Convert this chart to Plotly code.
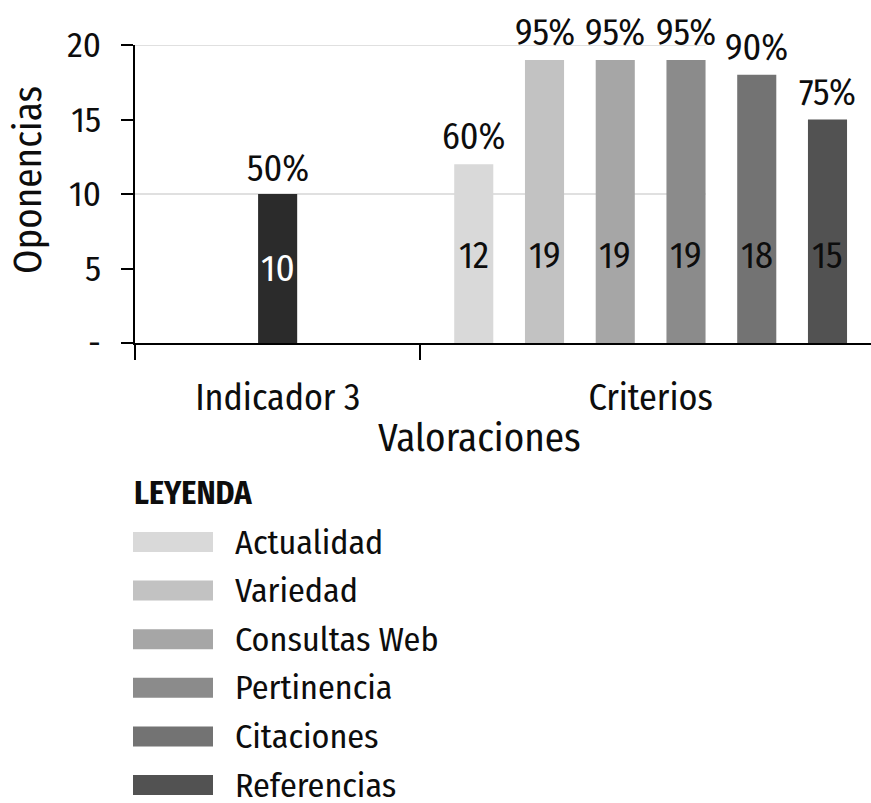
import plotly.graph_objects as go

# ---------------- data ----------------
CATEGORIES = ["Indicador 3", "Criterios"]
INDICADOR_VALUES = [10]
INDICADOR_PCT = ["50%"]
CRITERIA = ["Actualidad", "Variedad", "Consultas Web", "Pertinencia", "Citaciones", "Referencias"]
CRITERIA_VALUES = [12, 19, 19, 19, 18, 15]
CRITERIA_PCT = ["60%", "95%", "95%", "95%", "90%", "75%"]
Y_TICK_VALUES = [0, 5, 10, 15, 20]
Y_TICK_TEXT = ["-", "5", "10", "15", "20"]
GRID_VALUES = [10, 20]

# ---------------- style ----------------
INDICADOR_COLOR = "#2b2b2b"
CRITERIA_COLORS = ["#d9d9d9", "#c2c2c2", "#a6a6a6", "#8b8b8b", "#737373", "#525252"]
FONT = "Fira Sans Condensed, Roboto Condensed, sans-serif"
WEIGHT = 400
TXT = "#0d0d0d"

W, H = 871, 803
ML, MR, MT, MB = 135, 0, 45, 460
PW, PH = W - ML - MR, H - MT - MB

BAR_W = 0.137          # bar width in category units
SLOT = 0.248           # distance between criteria bars
FIRST_OFFSET = -0.381  # offset of the first criteria bar from its category
X_RANGE = [-0.5, 2.08]
Y_RANGE = [0, 20]
INSIDE_Y = {0: 5.0, 1: 5.85}


def px_x(px):
    return (px - ML) / PW


def px_y(py):
    return (H - MB - py) / PH


def fnt(size, color=TXT, weight=WEIGHT):
    return dict(family=FONT, size=size, color=color, weight=weight)


fig = go.Figure()
annotations = []

# Indicador 3 bar
ind_idx = CATEGORIES.index("Indicador 3")
ind_offset = -BAR_W / 2
fig.add_trace(go.Bar(
    x=[ind_idx], y=INDICADOR_VALUES, width=BAR_W, offset=ind_offset,
    marker=dict(color=INDICADOR_COLOR, line=dict(width=0)),
    name="Indicador 3", showlegend=False, hoverinfo="y",
))
for v, p in zip(INDICADOR_VALUES, INDICADOR_PCT):
    cx = ind_idx + ind_offset + BAR_W / 2
    annotations.append(dict(x=cx, y=v, xref="x", yref="y", text=p, showarrow=False,
                            yanchor="bottom", yshift=1, font=fnt(36)))
    annotations.append(dict(x=cx, y=INSIDE_Y[ind_idx], xref="x", yref="y", text=str(v),
                            showarrow=False, yanchor="middle", font=fnt(37, "white")))

# Criterios bars
crit_idx = CATEGORIES.index("Criterios")
centers = []
for k, (name, v, p, c) in enumerate(zip(CRITERIA, CRITERIA_VALUES, CRITERIA_PCT, CRITERIA_COLORS)):
    off = FIRST_OFFSET + k * SLOT
    fig.add_trace(go.Bar(
        x=[crit_idx], y=[v], width=BAR_W, offset=off,
        marker=dict(color=c, line=dict(width=0)),
        name=name, showlegend=False, hoverinfo="y",
    ))
    cx = crit_idx + off + BAR_W / 2
    centers.append(cx)
    annotations.append(dict(x=cx, y=v, xref="x", yref="y", text=p, showarrow=False,
                            yanchor="bottom", yshift=3, font=fnt(36)))
    annotations.append(dict(x=cx, y=INSIDE_Y[crit_idx], xref="x", yref="y", text=str(v),
                            showarrow=False, yanchor="middle", font=fnt(36)))

label_pos = [ind_idx, sum(centers) / len(centers)]

# gridlines (only across the two category slots)
shapes = []
for g in GRID_VALUES:
    shapes.append(dict(type="line", xref="x", yref="y", x0=X_RANGE[0], x1=crit_idx + 0.5,
                       y0=g, y1=g, line=dict(color="#d6d6d6", width=1.5), layer="below"))

# axis titles
annotations.append(dict(xref="paper", yref="paper", x=px_x(28), y=px_y(180), text="Oponencias",
                        textangle=-90, showarrow=False, xanchor="center", yanchor="middle",
                        font=fnt(39)))
annotations.append(dict(xref="paper", yref="paper", x=px_x(479), y=px_y(438), text="Valoraciones",
                        showarrow=False, xanchor="center", yanchor="middle",
                        font=fnt(39)))

# legend (manual)
annotations.append(dict(xref="paper", yref="paper", x=px_x(132), y=px_y(493), text="<b>LEYENDA</b>",
                        showarrow=False, xanchor="left", yanchor="middle",
                        font=fnt(32, weight=700)))
for k, (name, c) in enumerate(zip(CRITERIA, CRITERIA_COLORS)):
    cy = 542 + 48.6 * k
    shapes.append(dict(type="rect", xref="paper", yref="paper",
                       x0=px_x(133), x1=px_x(213), y0=px_y(cy - 10), y1=px_y(cy + 10),
                       fillcolor=c, line=dict(width=0)))
    annotations.append(dict(xref="paper", yref="paper", x=px_x(233), y=px_y(cy), text=name,
                            showarrow=False, xanchor="left", yanchor="middle",
                            font=fnt(34)))

fig.update_layout(
    template="none",
    width=W, height=H,
    margin=dict(l=ML, r=MR, t=MT, b=MB, pad=0),
    paper_bgcolor="white", plot_bgcolor="white",
    font=dict(family=FONT, color=TXT, weight=WEIGHT),
    barmode="overlay",
    showlegend=False,
    annotations=annotations,
    shapes=shapes,
    xaxis=dict(
        type="linear", range=X_RANGE, tickmode="array", tickvals=label_pos, ticktext=CATEGORIES,
        ticks="", showgrid=False, zeroline=False, showline=True, linecolor="black", linewidth=2,
        tickfont=fnt(36), ticklabelstandoff=22,
        minor=dict(tickmode="array", tickvals=[X_RANGE[0], ind_idx + 0.5], ticks="outside",
                   ticklen=15, tickwidth=2, tickcolor="black", showgrid=False),
    ),
    yaxis=dict(
        range=Y_RANGE, tickmode="array", tickvals=Y_TICK_VALUES, ticktext=Y_TICK_TEXT,
        ticks="outside", ticklen=12, tickwidth=2, tickcolor="black",
        showgrid=False, zeroline=False, showline=True, linecolor="black", linewidth=2,
        tickfont=fnt(35), ticklabelstandoff=13,
    ),
)

fig.write_html("out.html", config={"displayModeBar": False},
               post_script="document.body.style.margin='0';")
